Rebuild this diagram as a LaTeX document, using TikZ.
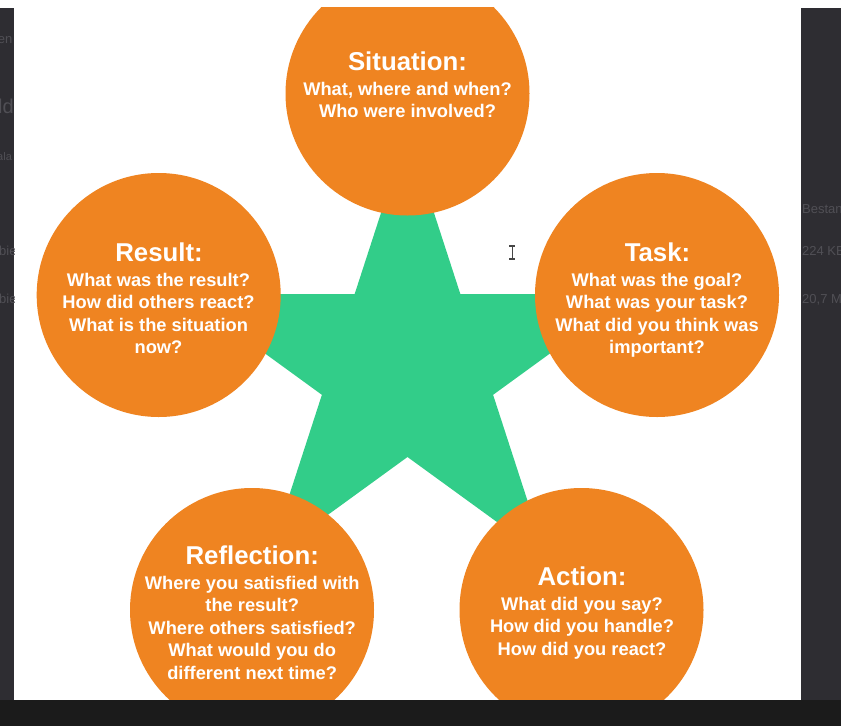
\documentclass[tikz,border=0pt]{standalone}
\usepackage{fontspec}
\setmainfont{Liberation Sans}
\definecolor{orng}{RGB}{239,132,33}
\definecolor{stargreen}{RGB}{50,205,137}
\definecolor{stripgray}{RGB}{46,45,50}
\definecolor{barblack}{RGB}{27,27,27}
\definecolor{ghost}{RGB}{80,79,85}
\definecolor{cursorgray}{RGB}{70,70,70}
\newcommand\ttlfont{\fontsize{25.8}{28}\selectfont\bfseries}
\newcommand\bdyfont{\fontsize{18.3}{22.5}\selectfont\bfseries}
\begin{document}
\begin{tikzpicture}[x=1pt,y=-1pt,
  bubble/.style={circle,fill=orng,minimum size=244pt,inner sep=0pt,draw=none},
  ttl/.style={text=white,font=\ttlfont,anchor=base,inner sep=0pt},
  bdy/.style={text=white,font=\bdyfont,anchor=base,align=center,inner sep=0pt},
  ghosttext/.style={text=ghost,font=\fontsize{13}{15}\selectfont,inner sep=0pt}]
\useasboundingbox (0,0) rectangle (841,726);
\fill[white] (0,0) rectangle (841,726);
\begin{scope}
  \clip (14,7) rectangle (801,700);
  % star
  \fill[stargreen,shift={(407.5,367)}]
    (-90:235.6) -- (-54:90) -- (-18:235.6) -- (18:90) -- (54:235.6) --
    (90:90) -- (126:235.6) -- (162:90) -- (198:235.6) -- (234:90) -- cycle;
  % circles
  \node[bubble] (sit) at (407.5,93.5) {};
  \node[bubble] (res) at (158.7,295) {};
  \node[bubble] (tsk) at (657,295) {};
  \node[bubble] (ref) at (252,610) {};
  \node[bubble] (act) at (581.5,610) {};
  % texts (body nodes are anchored at the baseline of their last line)
  \node[ttl] (sitT) at (407.5,70) {Situation:};
  \node[bdy] (sitB) at (407.5,117.5) {What, where and when?\\Who were involved?};
  \node[ttl] (resT) at (159,261) {Result:};
  \node[bdy] (resB) at (158.5,353.5) {What was the result?\\How did others react?\\What is the situation\\now?};
  \node[ttl] (tskT) at (657.5,261) {Task:};
  \node[bdy] (tskB) at (657,353.5) {What was the goal?\\What was your task?\\What did you think was\\important?};
  \node[ttl] (refT) at (252.2,564) {Reflection:};
  \node[bdy] (refB) at (252.2,679) {Where you satisfied with\\the result?\\Where others satisfied?\\What would you do\\different next time?};
  \node[ttl] (actT) at (582,585) {Action:};
  \node[bdy] (actB) at (582,655) {What did you say?\\How did you handle?\\How did you react?};
  % text cursor
  \draw[cursorgray,line width=1.1pt] (512.3,246.5) -- (512.3,258.5)
    (509.3,246) -- (515.3,246) (509.3,259) -- (515.3,259);
\end{scope}
% screen strips
\fill[stripgray] (0,8) rectangle (14,700);
\fill[stripgray] (801,8) rectangle (841,700);
\fill[barblack] (0,700) rectangle (841,726);
\begin{scope}
  \clip (0,8) rectangle (14,700);
  \node[ghosttext,anchor=base east] (g1) at (12.5,43) {en};
  \node[ghosttext,anchor=base west,font=\fontsize{20}{22}\selectfont] (g2) at (-2,113) {ld};
  \node[ghosttext,anchor=base west,font=\fontsize{11}{13}\selectfont] (g3) at (-3,160) {ala};
  \node[ghosttext,anchor=base west] (g4) at (-1,255) {bie};
  \node[ghosttext,anchor=base west] (g5) at (-1,303) {bie};
\end{scope}
\begin{scope}
  \clip (801,8) rectangle (841,700);
  \node[ghosttext,anchor=base west] (g6) at (802,213) {Bestand};
  \node[ghosttext,anchor=base west] (g7) at (802,255) {224 KB};
  \node[ghosttext,anchor=base west] (g8) at (802,303) {20,7 MB};
\end{scope}
\end{tikzpicture}
\end{document}
